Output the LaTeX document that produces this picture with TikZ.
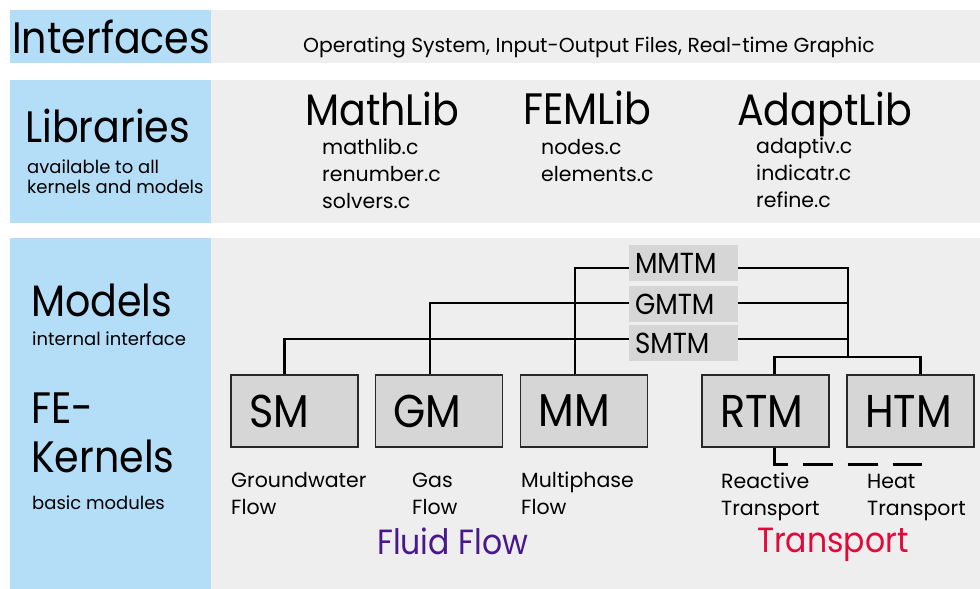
\documentclass[tikz,border=0pt]{standalone}
\usepackage{fontspec}
\setmainfont{Poppins}
\newfontfamily\gf{Poppins}[FakeStretch=0.9]
\newfontfamily\gs{Poppins}
\newcommand{\fsz}[1]{\fontsize{#1}{#1}\selectfont}
\definecolor{bandblue}{RGB}{180,221,247}
\definecolor{bandgrey}{RGB}{238,238,238}
\definecolor{boxgray}{RGB}{214,214,214}
\definecolor{boxline}{RGB}{40,40,40}
\definecolor{flowpurple}{RGB}{72,24,140}
\definecolor{transred}{RGB}{226,8,58}
\tikzset{
  blueband/.style={fill=bandblue,draw=none},
  greyband/.style={fill=bandgrey,draw=none},
  txt/.style={inner sep=0pt,anchor=base west},
  big/.style={txt,font=\gf\fsz{44}},
  mid/.style={txt,font=\gf\fsz{35}},
  small/.style={txt,font=\gs\fsz{20.5}},
  sub/.style={txt,font=\gs\fsz{18}},
  kbox/.style={draw=boxline,fill=boxgray,line width=1.3pt,minimum width=127pt,minimum height=72pt,
    inner xsep=18pt,inner ysep=0pt,text width=91pt,align=left,font=\gf\fsz{46}},
  tlabel/.style={fill=boxgray,draw=none,minimum width=109pt,minimum height=36pt,
    inner xsep=6pt,inner ysep=0pt,text width=97pt,align=left,font=\gf\fsz{29}},
  conn/.style={draw=black,line width=2.4pt},
  dconn/.style={draw=black,line width=2.4pt,dash pattern=on 30pt off 15pt}
}
\begin{document}
\begin{tikzpicture}[x=1pt,y=-1pt]
\useasboundingbox (0,0) rectangle (980,589);
\fill[white] (0,0) rectangle (980,589);
% bands
\path[greyband] (211,10) rectangle (980,63);
\path[blueband] (10,10) rectangle (211,63);
\path[greyband] (211,80) rectangle (980,223);
\path[blueband] (10,80) rectangle (211,223);
\path[greyband] (211,238) rectangle (980,589);
\path[blueband] (10,238) rectangle (211,589);
% interfaces
\node[big] (tif) at (12,53) {Interfaces};
\node[txt,font=\gs\fsz{20.3}] (tifd) at (303,52) {Operating System, Input-Output Files, Real-time Graphic};
% libraries
\node[big] (tlib) at (25,142) {Libraries};
\node[sub] (tlib1) at (27,173) {available to all};
\node[sub] (tlib2) at (27,193) {kernels and models};
\node[big] (mathlib) at (305,125) {MathLib};
\node[small] (m1) at (322,154) {mathlib.c};
\node[small] (m2) at (322,181) {renumber.c};
\node[small] (m3) at (322,208) {solvers.c};
\node[big] (femlib) at (523,124) {FEMLib};
\node[small] (f1) at (541,154) {nodes.c};
\node[small] (f2) at (541,181) {elements.c};
\node[big] (adaptlib) at (737,125) {AdaptLib};
\node[small] (a1) at (756,153) {adaptiv.c};
\node[small] (a2) at (756,180) {indicatr.c};
\node[small] (a3) at (756,207) {refine.c};
% models
\node[big] (tmod) at (31,316) {Models};
\node[sub] (tmod1) at (32,345) {internal interface};
\node[big] (tfe) at (31,423) {FE-};
\node[big] (tker) at (31,472) {Kernels};
\node[sub] (tker1) at (32,509) {basic modules};
% kernel boxes
\node[kbox] (sm) at (294.5,411) {SM};
\node[kbox] (gm) at (439,411) {GM};
\node[kbox] (mm) at (584,411) {MM};
\node[kbox] (rtm) at (765.5,411) {RTM};
\node[kbox] (htm) at (910.5,411) {HTM};
% model labels
\node[tlabel] (mmtm) at (683.5,263) {MMTM};
\node[tlabel] (gmtm) at (683.5,304) {GMTM};
\node[tlabel] (smtm) at (683.5,343) {SMTM};
\coordinate (tj) at (848,357);
% connectors
\draw[conn] ([yshift=-5pt]mmtm.west) -| ([xshift=-9pt]mm.north);
\draw[conn] ([yshift=1pt]gmtm.west) -| ([xshift=-9pt]gm.north);
\draw[conn] ([yshift=4pt]smtm.west) -| ([xshift=-10pt]sm.north);
\draw[conn] ([yshift=-5pt]mmtm.east) -| (tj);
\draw[conn] ([yshift=1pt]gmtm.east) -- ([yshift=1pt]gmtm.east -| tj);
\draw[conn] ([yshift=4pt]smtm.east) -- ([yshift=4pt]smtm.east -| tj);
\draw[conn] ([xshift=9pt]rtm.north) |- (tj) -| ([xshift=10pt]htm.north);
\draw[dconn] ([xshift=9pt]rtm.south) |- ([xshift=10pt,yshift=-17pt]htm.south) -- ([xshift=10pt,yshift=-13pt]htm.south);
% kernel descriptions
\node[small] (d1a) at (231,487) {Groundwater};
\node[small] (d1b) at (231,514) {Flow};
\node[small] (d2a) at (412,487) {Gas};
\node[small] (d2b) at (412,514) {Flow};
\node[small] (d3a) at (521,487) {Multiphase};
\node[small] (d3b) at (521,514) {Flow};
\node[small] (d4a) at (721,488) {Reactive};
\node[small] (d4b) at (721,515) {Transport};
\node[small] (d5a) at (867,488) {Heat};
\node[small] (d5b) at (867,515) {Transport};
\node[mid,text=flowpurple] (fluid) at (377,554) {Fluid Flow};
\node[mid,text=transred] (trans) at (757,552) {Transport};
\end{tikzpicture}
\end{document}
